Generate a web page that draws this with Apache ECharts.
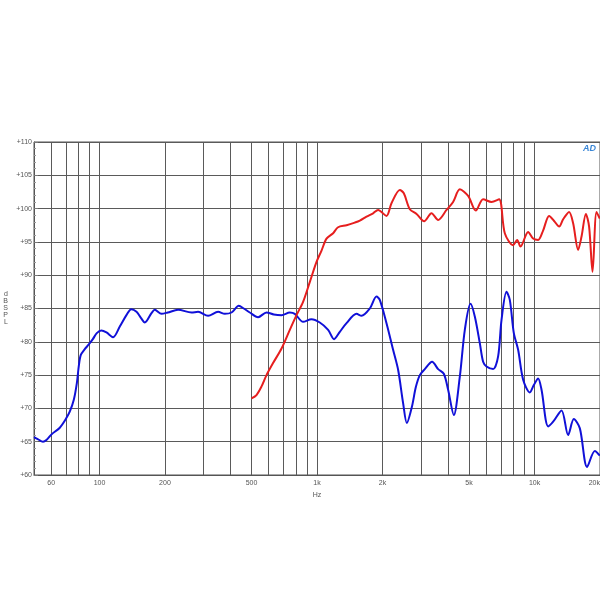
<!DOCTYPE html>
<html><head><meta charset="utf-8">
<script src="https://cdn.jsdelivr.net/npm/echarts@6/dist/echarts.min.js"></script>
<style>html,body{margin:0;padding:0;background:#fff}#c{width:600px;height:600px}</style>
</head><body><div id="c"></div>
<script>
// Frequency (Hz) / SPL (dB) readings
const blueFreq = [50,52,55,57.2,60.2,65.7,70,73,76.2,78.7,80.3,82,85.6,89.3,93.2,97.2,102,107.7,115.5,124,133,140,148,155,161.6,173.4,179.5,192.8,206,229.8,264.9,284,315.7,351,376.9,404.6,437,460.7,491,536,586,633,686.8,750,790.7,863,943,1030,1125,1198,1273,1367,1519,1602,1749,1877,1944,2087,2238,2360,2488,2588,2729,2847,2970,3131,3382,3605,3828,4007,4256,4536,4782,5079,5315,5604,5803,6015,6451,6802,7052,7435,7699,8033,8408,8865,9515,9926,10390,10770,11550,12180,13310,14270,15160,16160,17450,18930,19960];
const blueSPL = [65.7,65.4,65.0,65.3,66.1,67.1,68.4,69.5,71.3,73.8,76.3,78.0,78.9,79.6,80.4,81.3,81.7,81.4,80.7,82.3,84.0,84.9,84.5,83.6,82.9,84.3,84.8,84.2,84.4,84.8,84.4,84.5,83.9,84.5,84.2,84.4,85.4,85.0,84.4,83.7,84.4,84.1,84.0,84.4,84.2,83.0,83.4,82.9,81.8,80.4,81.5,82.8,84.2,83.9,85.0,86.8,86.3,82.8,78.8,75.8,70.8,67.8,70.2,73.2,75.0,75.9,77.0,75.9,75.2,72.8,69.0,74.8,81.8,85.7,83.8,79.8,77.0,76.3,75.9,77.8,83.3,87.5,86.3,81.3,78.8,74.3,72.4,73.5,74.5,72.8,67.3,68.0,69.7,66.0,68.4,67.0,61.2,63.6,62.9];
const redFreq = [500,527,556,586,628,687,750,805,863,927,995,1049,1106,1186,1250,1367,1492,1574,1689,1811,1909,2087,2200,2403,2507,2672,2869,3108,3361,3605,3939,4224,4536,4953,5372,5803,6344,6874,7301,7971,8318,8623,9346,9854,10390,10950,11670,12400,12980,13540,14420,15050,15870,16450,17220,17820,18480,19280,19960];
const redSPL = [71.5,72.0,73.3,75.0,76.8,79.0,81.8,84.0,86.0,89.0,92.0,93.7,95.5,96.3,97.2,97.5,97.9,98.2,98.8,99.3,99.8,98.9,100.8,102.8,102.3,99.9,99.2,98.1,99.3,98.3,99.8,101.0,102.9,101.9,99.7,101.4,101.0,101.4,96.3,94.5,95.3,94.3,96.5,95.5,95.3,96.7,98.9,98.0,97.3,98.4,99.5,97.8,93.8,95.8,99.2,97.3,90.5,99.5,98.5];
const gridFreqs = [60,70,80,90,100,200,300,400,500,600,700,800,900,1000,2000,3000,4000,5000,6000,7000,8000,9000,10000,20000];
const labelFreqs = [60,100,200,500,1000,2000,5000,10000,20000];
const yTicks = [60,65,70,75,80,85,90,95,100,105,110];

const pairs = (xs, ys) => xs.map((x, i) => [x, ys[i]]);
const chart = echarts.init(document.getElementById('c'), null, {renderer: 'canvas'});
chart.setOption({
  animation: false,
  backgroundColor: '#fff',
  grid: {left: 34, right: 0, top: 142, bottom: 125, show: true, borderColor: '#555', borderWidth: 1,
         containLabel: false, outerBoundsMode: 'none'},
  xAxis: {
    type: 'log', logBase: 10, min: 50, max: 20000,
    name: 'Hz', nameLocation: 'middle', nameGap: 14,
    nameTextStyle: {fontSize: 7, color: '#555', fontFamily: 'Liberation Sans'},
    axisLine: {lineStyle: {color: '#555'}},
    axisTick: {show: false, customValues: gridFreqs},
    axisLabel: {customValues: labelFreqs, fontSize: 7, color: '#555', margin: 5, fontFamily: 'Liberation Sans',
      hideOverlap: false, alignMaxLabel: 'right',
      formatter: v => v >= 1000 ? (Math.round(v / 100) / 10) + 'k' : String(Math.round(v))},
    splitLine: {show: true, lineStyle: {color: '#5a5a5a', width: 1}},
    minorSplitLine: {show: false}
  },
  yAxis: {
    type: 'value', min: yTicks[0], max: yTicks[yTicks.length - 1], interval: 5,
    name: 'd\nB\nS\nP\nL', nameLocation: 'middle', nameRotate: 0, nameGap: 26,
    nameTextStyle: {fontSize: 7, color: '#555', lineHeight: 7, fontFamily: 'Liberation Sans'},
    axisLine: {show: true, lineStyle: {color: '#555'}},
    axisTick: {show: true, inside: true, length: 4, lineStyle: {color: '#777'}},
    minorTick: {show: true, splitNumber: 5, length: 2, lineStyle: {color: '#999'}},
    axisLabel: {fontSize: 7, color: '#555', margin: 2, fontFamily: 'Liberation Sans', formatter: v => '+' + v},
    splitLine: {show: true, lineStyle: {color: '#5a5a5a', width: 1}}
  },
  graphic: [{type: 'text', left: 583, top: 144, style: {text: 'AD', fill: '#3a86d6', font: 'italic bold 9px Liberation Sans'}}],
  series: [
    {type: 'line', data: pairs(blueFreq, blueSPL), showSymbol: false, smooth: 0.3,
     lineStyle: {color: '#1010d8', width: 2}, z: 3},
    {type: 'line', data: pairs(redFreq, redSPL), showSymbol: false, smooth: 0.3,
     lineStyle: {color: '#e61e1e', width: 2}, z: 4}
  ]
});
</script></body></html>
